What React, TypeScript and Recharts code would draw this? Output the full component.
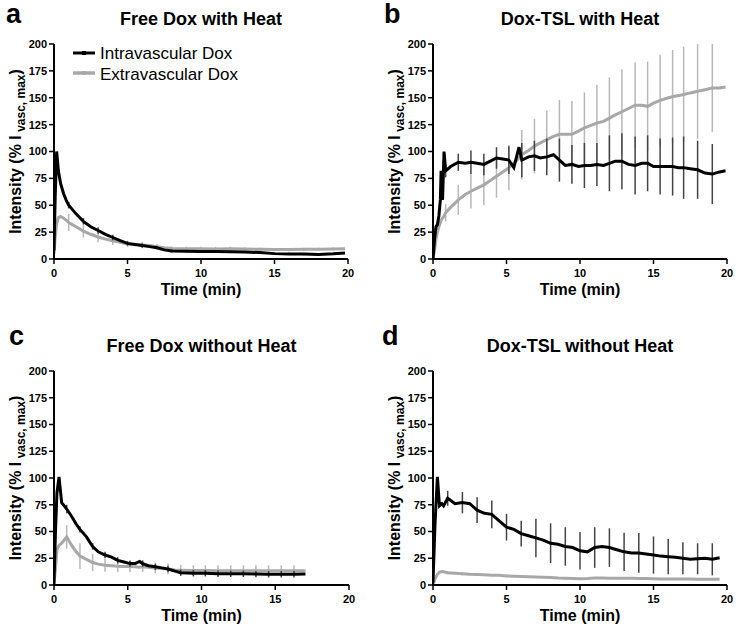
import { LineChart, Line, XAxis, YAxis, ErrorBar } from "recharts"

const FONT = '"Liberation Sans", Arial, Helvetica, sans-serif'

const xTicks = [0, 5, 10, 15, 20]
const yTicks = [0, 25, 50, 75, 100, 125, 150, 175, 200]
const legendLabels = ["Intravascular Dox", "Extravascular Dox"]
const xTitle = "Time (min)"

// a - Free Dox with Heat
const aTime = [0, 0.08, 0.18, 0.3, 0.45, 0.65, 0.85, 1, 1.5, 2, 2.5, 3, 3.5, 4, 4.5, 5, 5.5, 6, 6.5, 7, 7.5, 8, 9, 10, 11, 12, 13, 14, 15, 16, 17, 18, 19, 19.8]
const aIntra = [8, 57, 100, 82, 70, 61, 54, 50, 42, 35, 30, 26.5, 23, 20, 17, 14.5, 13.5, 12.5, 11.5, 10.5, 8.5, 7.5, 7.2, 7, 6.9, 6.8, 6.5, 6, 5, 4.7, 4.6, 4.3, 4.8, 5.5]
const aExtra = [5, 20, 33, 38.5, 39.5, 38, 36, 34, 30, 26, 23, 20.5, 18.5, 17, 15.5, 14, 13.5, 13, 12.5, 11.5, 10.5, 9.8, 9.5, 9.5, 9.3, 9.5, 9.3, 9, 8.8, 8.8, 9, 9, 9.3, 9.5]
const aErrTime = [1, 2, 3, 4, 5, 6, 7, 8, 9, 10, 11, 12, 13, 14, 15, 16, 17, 18, 19]
const aIntraErr = [3, 3, 3, 2.5, 2, 2, 1.5, 1.5, 1, 1, 1, 1, 1, 1, 1, 1, 1, 1, 1]
const aExtraErr = [8, 6, 5, 4, 3, 3, 2.5, 2, 2, 2, 2, 2, 1.5, 1.5, 1.5, 1.5, 1.5, 1.5, 1.5]

// b - Dox-TSL with Heat
const bTime = [0, 0.1, 0.2, 0.3, 0.4, 0.5, 0.55, 0.65, 0.75, 0.86, 1.2, 1.72, 2.2, 2.58, 3.0, 3.46, 3.9, 4.32, 4.75, 5.16, 5.5, 5.85, 6.04, 6.5, 6.9, 7.3, 7.74, 8.2, 8.6, 9.0, 9.45, 9.9, 10.3, 10.7, 11.15, 11.6, 12.0, 12.4, 12.85, 13.3, 13.75, 14.2, 14.6, 15.0, 15.45, 15.9, 16.3, 16.7, 17.05, 17.5, 18.0, 18.5, 19.0, 19.5, 19.9]
const bIntra = [0, 18, 30, 32, 40, 55, 82, 55, 100, 82, 86, 90, 89, 90, 89, 88, 91, 94, 93, 92, 85, 104, 92, 95, 96, 94, 95, 97, 92, 87, 88, 86, 87, 87, 88, 87, 89, 91, 91, 88, 87, 89, 89, 86, 86, 86, 86, 85, 85, 84, 83, 80, 79, 81, 82]
const bExtra = [0, 8, 18, 25, 30, 34, 36, 38, 40, 43, 48, 55, 60, 63, 66, 69, 73, 77, 81, 85, 89, 94, 97, 101, 105, 108, 111, 114, 116, 116, 116, 119, 122, 124, 126.5, 128, 131, 134, 137, 140, 143, 143, 142, 145, 147.5, 149.5, 151, 152, 153, 154.5, 156, 157.5, 159, 159, 160]
const bErrTime = [0.86, 1.72, 2.58, 3.46, 4.32, 5.16, 6.04, 6.9, 7.74, 8.6, 9.45, 10.3, 11.15, 12.0, 12.85, 13.75, 14.6, 15.45, 16.3, 17.05, 18.0, 19.0]
const bIntraErr = [6, 8, 11, 10, 10, 13, 16, 14, 17, 20, 18, 21, 20, 26, 26, 27, 26, 26, 27, 29, 27, 28]
const bExtraErr = [8, 14, 16, 19, 20, 21, 23, 25.5, 27, 32, 31, 33, 35.5, 38, 39.5, 40, 41.6, 42.5, 43.4, 44.5, 44, 41]

// c - Free Dox without Heat
const cTime = [0, 0.1, 0.2, 0.34, 0.52, 0.75, 0.86, 1.2, 1.5, 1.76, 2.2, 2.62, 3.0, 3.46, 3.9, 4.32, 4.75, 5.15, 5.5, 5.8, 6.01, 6.4, 6.87, 7.3, 7.73, 8.2, 8.59, 9.45, 10.26, 11.12, 11.98, 12.84, 13.69, 14.55, 15.41, 16.27, 17.05]
const cIntra = [1, 50, 86, 101, 77, 73, 71, 64, 57, 52, 45, 36, 31, 28, 26, 23, 21.5, 20, 20, 22, 20, 18, 17, 16, 15, 13, 11.5, 11, 11, 10.5, 10.5, 10.5, 10.2, 10, 10, 10, 10.2]
const cExtra = [2, 15, 33, 37, 39, 43, 45, 37, 31, 27, 24, 21, 19.5, 18.5, 18, 17.5, 17.4, 17.2, 17, 16.5, 17, 16.5, 16, 15.5, 15, 14, 13.8, 13.5, 13.5, 13.4, 13.4, 13.4, 13.4, 13.4, 13.4, 13.4, 13.4]
const cErrTime = [0.86, 1.76, 2.62, 3.46, 4.32, 5.15, 6.01, 6.87, 7.73, 8.59, 9.45, 10.26, 11.12, 11.98, 12.84, 13.69, 14.55, 15.41, 16.27]
const cIntraErr = [4, 3, 3, 3, 3, 3, 3, 3, 3, 3, 3, 3, 3, 3, 3, 3, 3, 3, 3]
const cExtraErr = [11, 12, 8, 6, 5.5, 5, 5, 5, 5, 5, 5, 5, 5, 5, 5, 5, 5, 5, 5]

// d - Dox-TSL without Heat
const dTime = [0, 0.14, 0.3, 0.44, 0.6, 0.72, 1, 1.5, 2, 2.5, 3, 3.5, 4, 4.5, 5, 5.5, 6, 6.5, 7, 7.5, 8, 8.5, 9, 9.5, 10, 10.5, 11, 11.5, 12, 12.5, 13, 13.5, 14, 14.5, 15, 15.5, 16, 16.5, 17, 17.5, 18, 18.5, 19, 19.5]
const dIntra = [2.5, 58, 101, 74, 76, 74, 81, 76, 77, 76, 70, 67, 66, 60, 54, 52, 48, 46, 44, 42, 39, 38, 36, 35, 32, 31, 35, 36, 35, 33, 31, 30, 30, 29, 28, 27, 26.5, 26, 25, 24, 24.5, 25, 24, 25.5]
const dExtra = [0, 6, 10, 12, 12.5, 12.4, 11.5, 11, 10.5, 10, 9.8, 9.5, 9.2, 9, 8.5, 8.2, 8, 7.8, 7.5, 7.2, 7, 6.5, 6.2, 6, 5.8, 6, 6.5, 6.5, 6.4, 6.3, 6.2, 6.2, 6, 6, 5.8, 5.7, 5.6, 5.6, 5.5, 5.5, 5.4, 5.4, 5.3, 5.3]
const dErrTime = [1, 2, 3, 4, 5, 6, 7, 8, 9, 10, 11, 12, 13, 14, 15, 16, 17, 18, 19]
const dIntraErr = [7, 10, 12, 13, 12.5, 12, 18, 18.6, 18, 17.5, 19, 18, 17.8, 18.6, 17.4, 16.5, 15, 14.5, 15]
const dExtraErr = [1.5, 1.5, 1, 1, 1, 1, 1, 1, 1, 1, 1, 1, 1, 1, 1, 1, 1, 1, 1]

function rows(time: number[], values: number[], errTime: number[], errValues: number[]) {
  return time.map((t, i) => {
    const k = errTime.indexOf(t)
    return { t, v: values[i], e: k >= 0 ? errValues[k] : undefined }
  })
}

const tickStyle = { fill: "#000", fontSize: 11, fontWeight: "bold", fontFamily: FONT }

function Panel(props: any) {
  const { x, y, h, plot, letter, title, time, intra, extra, errTime, intraErr, extraErr, legend } = props
  const intraRows = rows(time, intra, errTime, intraErr)
  const extraRows = rows(time, extra, errTime, extraErr)
  const cx = (plot.l + plot.r) / 2
  const cy = (plot.t + plot.b) / 2
  const lx = plot.l - 33
  return (
    <div style={{ position: "absolute", left: x, top: y, width: 375, height: h }}>
      <LineChart
        width={375}
        height={h}
        margin={{ top: plot.t, right: 375 - plot.r, bottom: h - plot.b - 30, left: plot.l - 30 }}
      >
        <XAxis
          type="number"
          dataKey="t"
          domain={[0, 20]}
          ticks={xTicks}
          allowDataOverflow
          height={30}
          tickSize={5}
          tickMargin={5}
          interval={0}
          tick={tickStyle}
          axisLine={{ stroke: "#000", strokeWidth: 2 }}
          tickLine={{ stroke: "#000", strokeWidth: 1.5 }}
        />
        <YAxis
          type="number"
          domain={[0, 200]}
          ticks={yTicks}
          allowDataOverflow
          width={30}
          tickSize={5}
          interval={0}
          tick={tickStyle}
          axisLine={{ stroke: "#000", strokeWidth: 2 }}
          tickLine={{ stroke: "#000", strokeWidth: 1.5 }}
        />
        <Line data={extraRows} dataKey="v" stroke="#a8a8a8" strokeWidth={3} dot={false} isAnimationActive={false}>
          <ErrorBar dataKey="e" direction="y" width={0} stroke="#b8b8b8" strokeWidth={1.5} isAnimationActive={false} />
        </Line>
        <Line data={intraRows} dataKey="v" stroke="#000" strokeWidth={3} dot={false} isAnimationActive={false}>
          <ErrorBar dataKey="e" direction="y" width={0} stroke="#444" strokeWidth={1.5} isAnimationActive={false} />
        </Line>
      </LineChart>
      <svg
        width={375}
        height={h}
        style={{ position: "absolute", left: 0, top: 0, pointerEvents: "none", fontFamily: FONT }}
      >
        <text x={letter.x} y={letter.y} fontSize={27} fontWeight="bold" fill="#000">{letter.text}</text>
        <text x={cx} y={plot.t - 19} fontSize={18} fontWeight="bold" textAnchor="middle" fill="#000">{title}</text>
        <text
          x={lx}
          y={cy}
          transform={`rotate(-90 ${lx} ${cy})`}
          fontSize={16}
          fontWeight="bold"
          textAnchor="middle"
          fill="#000"
        >
          Intensity (% I<tspan fontSize={12} dy={4}> vasc, max</tspan><tspan dy={-4}>)</tspan>
        </text>
        <text x={cx} y={plot.b + 36} fontSize={16} fontWeight="bold" textAnchor="middle" fill="#000">{xTitle}</text>
        {legend && (
          <g>
            <line x1={73} x2={95} y1={53} y2={53} stroke="#000" strokeWidth={3} />
            <rect x={82} y={51} width={4} height={4} fill="#000" />
            <text x={100} y={59} fontSize={17} fill="#000">{legendLabels[0]}</text>
            <line x1={73} x2={95} y1={73} y2={73} stroke="#a8a8a8" strokeWidth={3.5} />
            <rect x={82} y={71} width={4} height={4} fill="#a8a8a8" />
            <text x={100} y={80} fontSize={17} fill="#000">{legendLabels[1]}</text>
          </g>
        )}
      </svg>
    </div>
  )
}

export default function App() {
  return (
    <div style={{ position: "absolute", left: 0, top: 0, width: 750, height: 632, background: "#fff", fontFamily: FONT }}>
      <Panel
        x={0} y={0} h={300}
        plot={{ l: 54, t: 44, r: 348, b: 259 }}
        letter={{ text: "a", x: 6, y: 23 }}
        title="Free Dox with Heat"
        time={aTime} intra={aIntra} extra={aExtra}
        errTime={aErrTime} intraErr={aIntraErr} extraErr={aExtraErr}
        legend
      />
      <Panel
        x={375} y={0} h={300}
        plot={{ l: 58, t: 44, r: 352, b: 259 }}
        letter={{ text: "b", x: 9, y: 23 }}
        title="Dox-TSL with Heat"
        time={bTime} intra={bIntra} extra={bExtra}
        errTime={bErrTime} intraErr={bIntraErr} extraErr={bExtraErr}
      />
      <Panel
        x={0} y={320} h={312}
        plot={{ l: 54, t: 51, r: 349, b: 265 }}
        letter={{ text: "c", x: 9, y: 25 }}
        title="Free Dox without Heat"
        time={cTime} intra={cIntra} extra={cExtra}
        errTime={cErrTime} intraErr={cIntraErr} extraErr={cExtraErr}
      />
      <Panel
        x={375} y={320} h={312}
        plot={{ l: 58, t: 51, r: 352, b: 265 }}
        letter={{ text: "d", x: 7, y: 25 }}
        title="Dox-TSL without Heat"
        time={dTime} intra={dIntra} extra={dExtra}
        errTime={dErrTime} intraErr={dIntraErr} extraErr={dExtraErr}
      />
    </div>
  )
}
